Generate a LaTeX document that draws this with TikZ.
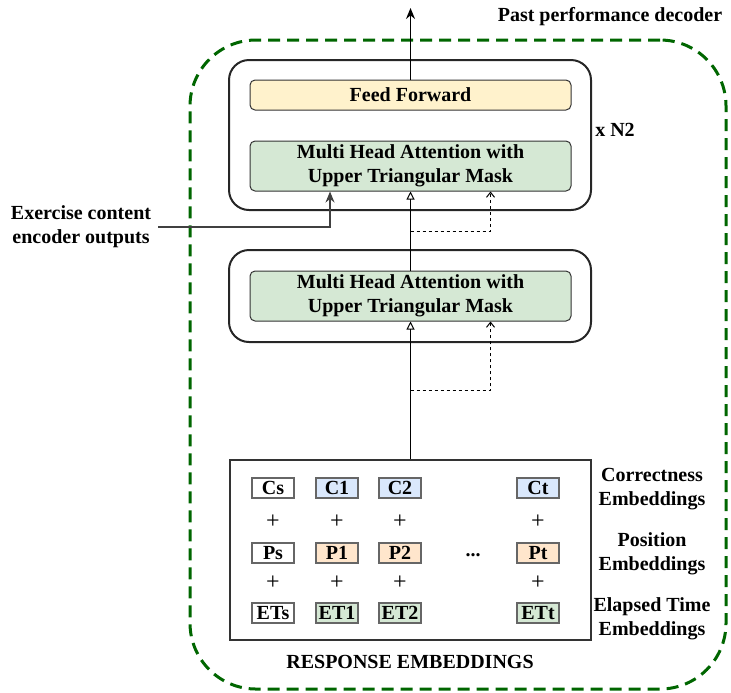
\documentclass[tikz,border=0pt]{standalone}
\usepackage{fontspec}
\setmainfont{Liberation Serif}
\usetikzlibrary{arrows.meta}
\usetikzlibrary{calc}
\usetikzlibrary{positioning}
\definecolor{decgreen}{HTML}{006600}
\definecolor{ffyellow}{HTML}{FFF2CC}
\definecolor{attgreen}{HTML}{D5E8D4}
\definecolor{corrblue}{HTML}{DAE8FC}
\definecolor{posorange}{HTML}{FFE6CC}
\definecolor{cellgray}{HTML}{666666}
\tikzset{
    lbl/.style={font=\bfseries\fontsize{10}{12}\selectfont, align=center},
    layer/.style={draw=black!85, line width=1pt, rounded corners=10pt, minimum width=181pt},
    sublayer/.style={lbl, draw=black!80, line width=0.5pt, rounded corners=2.5pt, minimum width=160.5pt, inner sep=0pt},
    cell/.style={lbl, draw=cellgray, line width=0.8pt, minimum width=21pt, minimum height=10pt, inner sep=0pt},
    plus/.style={font=\fontsize{12}{14}\selectfont},
    conn/.style={draw, line width=0.6pt, -{Stealth[length=5.5pt,width=4.5pt]}},
    openconn/.style={draw, line width=0.5pt, -{Triangle[open,length=4pt,width=4pt]}},
    dashconn/.style={draw, line width=0.5pt, dash pattern=on 1.5pt off 1.5pt, -{Straight Barb[length=2.5pt,width=4pt]}}
}
\begin{document}
\begin{tikzpicture}[x=0.5pt, y=-0.5pt]
\useasboundingbox (0,0) rectangle (731,692);
\node[draw=decgreen, line width=1.5pt, dash pattern=on 6pt off 3.5pt, rounded corners=33pt, minimum width=268pt, minimum height=324.5pt] (decoder) at (458,364.5) {};
\node[lbl] (dectitle) at (610,17) {Past performance decoder};
\node[layer, minimum height=75pt] (toplayer) at (410,135) {};
\node[sublayer, fill=ffyellow, minimum height=15pt] (ff) at (410.5,95) {Feed Forward};
\node[sublayer, fill=attgreen, minimum height=25pt] (mha1) at (410.5,166) {Multi Head Attention with\\Upper Triangular Mask};
\node[lbl] (nx) at (615,130) {x N2};
\node[layer, minimum height=46pt] (botlayer) at (410,296) {};
\node[sublayer, fill=attgreen, minimum height=25pt] (mha2) at (410.5,296) {Multi Head Attention with\\Upper Triangular Mask};
\node[draw=black!80, line width=1pt, minimum width=180.5pt, minimum height=90pt] (emb) at (410.5,550) {};
\node[lbl] (embtitle) at (410,662) {RESPONSE EMBEDDINGS};
\node[lbl] (exlabel) at (81,227) {Exercise content\\encoder outputs};
\foreach \col/\x/\cf/\pf/\ef in {s/273/white/white/white, 1/337/corrblue/posorange/attgreen, 2/400/corrblue/posorange/attgreen, t/538/corrblue/posorange/attgreen}{
    \node[cell, fill=\cf] (c\col) at (\x,488) {C\col};
    \node[plus] (pa\col) at (\x,522) {+};
    \node[cell, fill=\pf] (p\col) at (\x,553) {P\col};
    \node[plus] (pb\col) at (\x,583) {+};
    \node[cell, fill=\ef] (et\col) at (\x,613) {ET\col};
}
\node[lbl] (dots) at (473,555) {...};
\node[lbl] (corrlbl) at (652,489) {Correctness\\Embeddings};
\node[lbl] (poslbl) at (652,554) {Position\\Embeddings};
\node[lbl] (etlbl) at (652,619) {Elapsed Time\\Embeddings};
\coordinate (out) at (410.5,8);
\coordinate (exin) at ($(mha1.south)+(-80.5,0)$);
\coordinate (split1) at ($(mha2.north)!0.5!(mha1.south)$);
\coordinate (dash1) at ($(mha1.south)+(80,0)$);
\coordinate (split2) at ($(emb.north)!0.5!(mha2.south)$);
\coordinate (dash2) at ($(mha2.south)+(80,0)$);
\draw[conn] (ff.north) -- (out);
\draw[conn, black!75] (exlabel.east) -| (exin);
\draw[openconn] (mha2.north) -- (mha1.south);
\draw[dashconn] (split1) -| (dash1);
\draw[openconn] (emb.north) -- (mha2.south);
\draw[dashconn] (split2) -| (dash2);
\end{tikzpicture}
\end{document}
